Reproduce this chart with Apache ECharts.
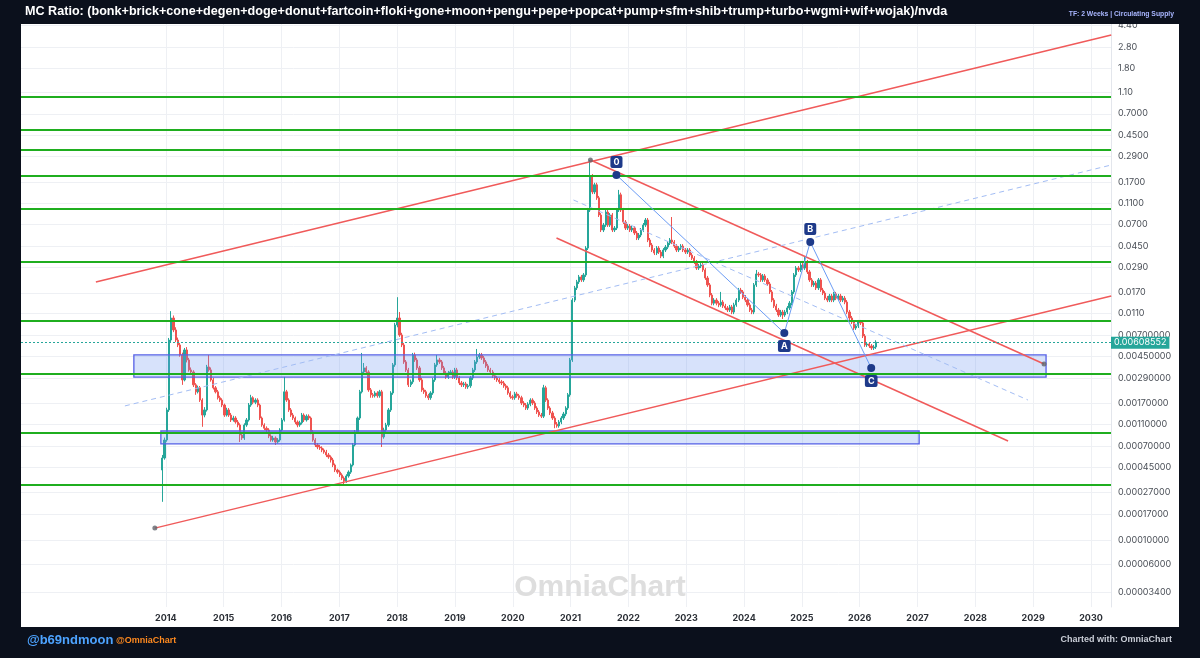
<!DOCTYPE html>
<html><head><meta charset="utf-8">
<script src="https://cdn.jsdelivr.net/npm/echarts@6/dist/echarts.min.js"></script>
<style>html,body{margin:0;padding:0;background:#0b101c;}#c{width:1200px;height:658px;}</style>
</head><body><div id="c"></div>
<script>
// ---------------- DATA ----------------
const titleText = 'MC Ratio: (bonk+brick+cone+degen+doge+donut+fartcoin+floki+gone+moon+pengu+pepe+popcat+pump+sfm+shib+trump+turbo+wgmi+wif+wojak)/nvda';
const subtitleText = 'TF: 2 Weeks | Circulating Supply';
const startYear = 2013.94;      // first 2-week candle (decimal year)
const candleDays = 14;
const firstOpen = 0.000428;
const closes = [
0.000549,0.000798,0.00149,0.00637,0.01006,0.00785,0.00637,0.00575,0.00467,0.00278,
0.00518,0.00421,0.00342,0.00328,0.00251,0.00217,0.00236,0.00183,0.00134,0.00149,
0.00364,0.00342,0.00278,0.00236,0.00217,0.00192,0.00183,0.00165,0.00134,0.00149,
0.00134,0.00121,0.00126,0.00116,0.00109,0.000886,0.000832,0.00109,0.00121,0.00165,
0.00192,0.00175,0.00183,0.00165,0.00126,0.00109,0.00102,0.000983,0.000867,0.000798,
0.000832,0.000765,0.000798,0.000983,0.00121,0.00217,0.00183,0.00149,0.00134,0.00126,
0.00116,0.00109,0.00114,0.00134,0.00121,0.00131,0.00126,0.000943,0.000798,0.000720,
0.000690,0.000676,0.000648,0.000621,0.000585,0.000561,0.000527,0.000475,0.000428,0.000410,
0.000386,0.000362,0.000341,0.000378,0.000410,0.000475,0.000720,0.000943,0.00126,0.00217,
0.00328,0.00357,0.00328,0.00226,0.00204,0.00200,0.00212,0.00200,0.00217,0.000850,
0.000983,0.00109,0.00149,0.00212,0.00380,0.00870,0.01006,0.00707,0.00575,0.00404,
0.00342,0.00251,0.00267,0.00467,0.00421,0.00357,0.00278,0.00226,0.00217,0.00200,
0.00192,0.00212,0.00278,0.00380,0.00421,0.00404,0.00357,0.00321,0.00296,0.00321,
0.00328,0.00296,0.00342,0.00290,0.00261,0.00251,0.00256,0.00241,0.00246,0.00290,
0.00342,0.00404,0.00448,0.00467,0.00439,0.00404,0.00372,0.00342,0.00328,0.00303,
0.00290,0.00278,0.00267,0.00261,0.00246,0.00236,0.00212,0.00196,0.00192,0.00208,
0.00200,0.00192,0.00172,0.00165,0.00155,0.00168,0.00183,0.00172,0.00155,0.00143,
0.00134,0.00131,0.00236,0.00183,0.00155,0.00140,0.00126,0.00111,0.00107,0.00116,
0.00126,0.00137,0.00155,0.00204,0.00421,0.0146,0.0188,0.0213,0.0236,0.0222,
0.0246,0.0430,0.0948,0.192,0.138,0.160,0.122,0.0855,0.0626,0.0694,
0.0909,0.0694,0.0855,0.0626,0.0652,0.0948,0.130,0.0948,0.0738,0.0652,
0.0679,0.0626,0.0652,0.0588,0.0530,0.0564,0.0626,0.0694,0.0770,0.0508,
0.0458,0.0413,0.0388,0.0430,0.0396,0.0364,0.0413,0.0439,0.0477,0.0508,
0.0487,0.0448,0.0413,0.0430,0.0448,0.0413,0.0396,0.0413,0.0372,0.0349,
0.0322,0.0284,0.0296,0.0302,0.0273,0.0231,0.0200,0.0162,0.0137,0.0146,
0.0137,0.0132,0.0140,0.0129,0.0124,0.01188,0.01266,0.01139,0.0132,0.0146,
0.0180,0.0173,0.0155,0.0146,0.0132,0.01188,0.01139,0.0200,0.0251,0.0246,
0.0222,0.0241,0.0222,0.0204,0.0173,0.0146,0.0129,0.01188,0.01071,0.01139,
0.01071,0.01139,0.0124,0.0137,0.0173,0.0246,0.0284,0.0273,0.0302,0.0284,
0.0322,0.0262,0.0222,0.0200,0.0208,0.0188,0.0222,0.0180,0.0169,0.0152,
0.0146,0.0159,0.0146,0.0166,0.0152,0.0159,0.0146,0.0152,0.0140,0.01139,
0.01006,0.00926,0.00817,0.00852,0.00926,0.00907,0.00692,0.00575,0.00586,0.00563,
0.00540,0.00551,0.00608552
];
const highs = [
0.000585,0.000840,0.00156,0.00665,0.0116,0.0106,0.0083,0.0067,0.0060,0.0049,
0.0054,0.0055,0.0044,0.0036,0.0034,0.0026,0.00247,0.00245,0.0019,0.00158,
0.0038,0.00467,0.0036,0.0029,0.00245,0.00226,0.0020,0.0019,0.0017,0.00156,
0.00155,0.0014,0.00132,0.00131,0.00121,0.00113,0.00092,0.00113,0.00126,0.00172,
0.00204,0.00198,0.0019,0.0019,0.0017,0.0013,0.00113,0.00106,0.00102,0.0009,
0.00087,0.00086,0.00083,0.00102,0.00126,0.00296,0.00226,0.0019,0.00155,0.0014,
0.0013,0.0012,0.00119,0.0014,0.00139,0.00136,0.00136,0.0013,0.00098,0.00083,
0.00075,0.00072,0.0007,0.00067,0.00065,0.00061,0.00058,0.00055,0.00049,0.00044,
0.000425,0.0004,0.000375,0.000392,0.000425,0.00049,0.00075,0.00098,0.0013,0.00226,
0.00487,0.00395,0.0037,0.0034,0.00235,0.00212,0.0022,0.0022,0.00226,0.00226,
0.00103,0.00114,0.00155,0.0022,0.00395,0.0091,0.0155,0.01139,0.0074,0.006,
0.0042,0.00357,0.0028,0.00487,0.0049,0.0044,0.00372,0.0029,0.00236,0.00226,
0.00208,0.0022,0.0029,0.00396,0.00467,0.0044,0.0042,0.00372,0.00335,0.00335,
0.00342,0.00342,0.00357,0.00357,0.00302,0.00272,0.00267,0.00267,0.00256,0.00302,
0.00357,0.0042,0.00529,0.00487,0.00487,0.00457,0.0042,0.00388,0.00357,0.00342,
0.00316,0.00302,0.0029,0.00278,0.00272,0.00256,0.00246,0.0022,0.00204,0.00217,
0.00217,0.00208,0.002,0.00179,0.00172,0.00175,0.0019,0.0019,0.00179,0.00161,
0.00149,0.0014,0.00251,0.00246,0.0019,0.00161,0.00146,0.00131,0.00116,0.00121,
0.00131,0.00143,0.00161,0.00212,0.00439,0.0152,0.0196,0.0222,0.0246,0.0246,
0.0256,0.0448,0.099,0.268,0.20,0.167,0.167,0.127,0.089,0.0724,
0.0948,0.0948,0.089,0.089,0.068,0.099,0.144,0.136,0.099,0.077,
0.0709,0.0709,0.068,0.068,0.0613,0.0588,0.0652,0.0724,0.0803,0.0803,
0.053,0.0478,0.043,0.0448,0.0448,0.0413,0.043,0.0458,0.0497,0.053,
0.082,0.0508,0.0467,0.0448,0.0467,0.0467,0.043,0.043,0.043,0.0388,
0.0364,0.0336,0.0309,0.0315,0.0315,0.0284,0.0241,0.0208,0.0169,0.0152,
0.0152,0.0143,0.0173,0.0146,0.0135,0.0129,0.0132,0.0132,0.0138,0.0152,
0.0188,0.0188,0.018,0.0162,0.0152,0.0138,0.0124,0.0208,0.0273,0.0262,
0.0256,0.0251,0.0251,0.0231,0.0213,0.018,0.0152,0.0135,0.0124,0.0119,
0.0119,0.0119,0.0129,0.0143,0.018,0.0256,0.0296,0.0296,0.0315,0.0315,
0.0357,0.0336,0.0273,0.0231,0.0217,0.0217,0.0231,0.0231,0.0188,0.0176,
0.0159,0.0166,0.0166,0.0173,0.0173,0.0166,0.0166,0.0159,0.0159,0.0146,
0.0119,0.0105,0.00966,0.00888,0.00966,0.00966,0.00946,0.00721,0.0061,0.0061,
0.00586,0.00575,0.00634
];
const lows = [
0.000221,0.00053,0.00077,0.00143,0.0061,0.0075,0.0061,0.0055,0.0045,0.00251,
0.0027,0.0040,0.0033,0.0031,0.0024,0.00204,0.0021,0.00176,0.00105,0.00128,
0.00144,0.0033,0.00268,0.00228,0.0021,0.00185,0.00176,0.00158,0.00129,0.0013,
0.00129,0.00116,0.00117,0.00112,0.00104,0.000765,0.0008,0.0008,0.00105,0.00117,
0.00159,0.00168,0.00168,0.00158,0.00121,0.00105,0.00098,0.00094,0.00083,0.00077,
0.00077,0.00072,0.00074,0.00077,0.00095,0.00117,0.00176,0.00143,0.00129,0.00121,
0.00111,0.00104,0.00105,0.0011,0.00116,0.00117,0.00121,0.0009,0.00077,0.00069,
0.00066,0.00065,0.00062,0.0006,0.00056,0.00054,0.0005,0.000455,0.00041,0.000395,
0.00037,0.000347,0.00032,0.000328,0.000365,0.000395,0.00046,0.0007,0.00091,0.00121,
0.0021,0.00315,0.00316,0.00217,0.00192,0.00192,0.00193,0.00192,0.00192,0.00069,
0.00082,0.00094,0.00105,0.00143,0.00204,0.00365,0.0083,0.0068,0.0055,0.00388,
0.00328,0.0024,0.0024,0.00256,0.00404,0.00342,0.00267,0.00217,0.00208,0.00192,
0.00183,0.00184,0.00204,0.00267,0.00365,0.00388,0.00342,0.00308,0.00284,0.00284,
0.00308,0.00284,0.00284,0.00278,0.0025,0.0024,0.0024,0.00231,0.00231,0.00236,
0.00278,0.00328,0.00388,0.0043,0.00421,0.00388,0.00357,0.00328,0.00315,0.0029,
0.00278,0.00267,0.00256,0.0025,0.00236,0.00226,0.00204,0.00188,0.00184,0.00184,
0.00192,0.00184,0.00165,0.00158,0.00149,0.00149,0.00161,0.00165,0.00149,0.00137,
0.00129,0.00126,0.00126,0.00176,0.00149,0.00134,0.00121,0.00102,0.00103,0.00103,
0.00111,0.00121,0.00131,0.00149,0.00196,0.00404,0.014,0.018,0.0204,0.0213,
0.0213,0.0236,0.0413,0.091,0.132,0.132,0.117,0.082,0.060,0.060,
0.0667,0.0667,0.0667,0.060,0.060,0.0626,0.091,0.091,0.0709,0.0626,
0.0626,0.060,0.060,0.0564,0.0508,0.0508,0.054,0.060,0.0667,0.0487,
0.0439,0.0396,0.0372,0.0372,0.038,0.0349,0.0349,0.0396,0.0421,0.0458,
0.0467,0.043,0.0396,0.0396,0.0413,0.0396,0.038,0.038,0.0357,0.0336,
0.0309,0.0273,0.0273,0.0284,0.0262,0.0222,0.0192,0.0155,0.0131,0.0131,
0.0131,0.0126,0.0127,0.0124,0.0119,0.0114,0.0114,0.0109,0.0109,0.0127,
0.014,0.0166,0.0149,0.014,0.0127,0.0114,0.0109,0.0109,0.0192,0.0236,
0.0213,0.0213,0.0213,0.0196,0.0166,0.014,0.0124,0.0114,0.0103,0.0103,
0.00986,0.0103,0.0109,0.0119,0.0131,0.0166,0.0236,0.0262,0.0262,0.0273,
0.0273,0.0251,0.0213,0.0192,0.0192,0.018,0.018,0.0173,0.0162,0.0146,
0.014,0.014,0.014,0.014,0.0146,0.0146,0.014,0.014,0.0134,0.0109,
0.00966,0.00888,0.00785,0.00785,0.00817,0.0087,0.00664,0.00552,0.00552,0.0054,
0.00518,0.00518,0.00529
];
const lastPrice = 0.00608552;
const yTickLabels = ['4.40','2.80','1.80','1.10','0.7000','0.4500','0.2900','0.1700','0.1100','0.0700','0.0450','0.0290','0.0170','0.0110','0.00700000','0.00450000','0.00290000','0.00170000','0.00110000','0.00070000','0.00045000','0.00027000','0.00017000','0.00010000','0.00006000','0.00003400'];
const xTickLabels = [2014,2015,2016,2017,2018,2019,2020,2021,2022,2023,2024,2025,2026,2027,2028,2029,2030];
const greenLevels = [0.992,0.500,0.330,0.196,0.0974,0.0322,0.00951,0.00315,0.000937,0.000318];
// zones: [startYear, endYear, upper value, lower value]
const zones = [[2013.447,2029.223,0.00467,0.00295],[2013.914,2027.028,0.000962,0.000735]];
// solid red trend lines: [t1, v1, t2, v2]
const redLines = [[2012.79,0.0213,2030.35,3.59],[2013.81,0.000128,2030.35,0.0159],[2021.343,0.268,2029.188,0.00387],[2020.756,0.0530,2028.566,0.000782]];
// dashed mid lines: [t1, v1, t2, v2]
const dashedLines = [[2013.292,0.00162,2030.35,0.2415],[2021.05,0.1168,2028.911,0.00183]];
const abcNames = ['0','A','B','C'];
const abcTimes = [2021.793,2024.696,2025.145,2026.199];
const abcValues = [0.1963,0.00737,0.0488,0.00356];
const pivotTimes = [2013.81,2021.343,2029.188];
const pivotValues = [0.000128,0.268,0.00387];

// ---------------- CHART ----------------
const L = v => Math.log10(v);
const candles = closes.map((c, i) => {
  const o = i === 0 ? firstOpen : closes[i - 1];
  return [startYear + i * candleDays / 365.25, L(o), L(c), L(lows[i]), L(highs[i])];
});
const yTickVals = yTickLabels.map(s => L(parseFloat(s)));
const FONT = 'Inter, Roboto, "DejaVu Sans", sans-serif';
const HFONT = '"Liberation Sans", Arial, sans-serif';

const lineSeries = (arr, style, z) => arr.map(d => ({
  type: 'line', data: [[d[0], L(d[1])], [d[2], L(d[3])]],
  symbol: 'none', lineStyle: style, z: z, silent: true, animation: false
}));

const option = {
  backgroundColor: '#ffffff',
  animation: false,
  grid: { left: 21, right: 89, top: 24, bottom: 51 },
  xAxis: {
    type: 'value', min: 2011.495, max: 2030.346,
    axisLine: { show: true, lineStyle: { color: '#e3e6ec' } },
    axisTick: { show: false, customValues: xTickLabels },
    axisLabel: { customValues: xTickLabels, formatter: v => String(v), color: '#2b2f36', fontSize: 9, fontFamily: FONT, fontWeight: 'bold', margin: 7 },
    splitLine: { show: true, lineStyle: { color: '#eef0f4', width: 1 } }
  },
  yAxis: {
    type: 'value', position: 'right', min: -4.6044, max: 0.6549, scale: true,
    axisLine: { show: true, lineStyle: { color: '#e3e6ec' } },
    axisTick: { show: false, customValues: yTickVals },
    axisLabel: {
      customValues: yTickVals, color: '#4a4f57', fontSize: 9, fontFamily: FONT, margin: 7,
      formatter: v => { let best = 0; yTickVals.forEach((t, i) => { if (Math.abs(t - v) < Math.abs(yTickVals[best] - v)) best = i; }); return yTickLabels[best]; }
    },
    splitLine: { show: true, lineStyle: { color: '#eef0f4', width: 1 } }
  },
  series: [
    {
      type: 'candlestick', data: candles, barWidth: 1.7, z: 2,
      itemStyle: { color: '#26a69a', color0: '#ef5350', borderColor: '#26a69a', borderColor0: '#ef5350', borderWidth: 1 },
      markArea: {
        silent: true, z: 3,
        itemStyle: { color: 'rgba(110,150,240,0.28)', borderColor: '#5560e6', borderWidth: 1.3 },
        data: zones.map(z => [{ xAxis: z[0], yAxis: L(z[2]) }, { xAxis: z[1], yAxis: L(z[3]) }])
      },
      markLine: {
        silent: true, symbol: ['none', 'none'], animation: false,
        data: greenLevels.map(v => ({ yAxis: L(v), lineStyle: { color: '#1fae1f', width: 2, type: 'solid' }, label: { show: false } }))
          .concat([{ yAxis: L(lastPrice), lineStyle: { color: '#26a69a', width: 1, type: [2, 2], opacity: 1 },
            label: { show: true, position: 'end', distance: 0, formatter: String(lastPrice), backgroundColor: '#26a69a', color: '#fff', fontSize: 9, fontFamily: FONT, padding: [2, 3, 1, 3] } }])
      }
    },
    ...lineSeries(redLines, { color: '#f05a5a', width: 1.5 }, 4),
    ...lineSeries(dashedLines, { color: '#a3bdf4', width: 1, type: [5, 4] }, 4),
    {
      type: 'line', z: 6, silent: true, animation: false,
      data: abcTimes.map((t, i) => ({ value: [t, L(abcValues[i])], label: { show: true, formatter: abcNames[i], position: i % 2 === 0 ? 'top' : 'bottom' } })),
      symbol: 'circle', symbolSize: 8, itemStyle: { color: '#1e3a8a' },
      lineStyle: { color: '#6b9cf5', width: 1 },
      label: { backgroundColor: '#1e3a8a', color: '#fff', fontSize: 9, fontWeight: 'bold', fontFamily: FONT, padding: [2, 3, 1, 3], borderRadius: 2, distance: 3 }
    },
    {
      type: 'scatter', z: 7, silent: true, animation: false,
      data: pivotTimes.map((t, i) => [t, L(pivotValues[i])]),
      symbolSize: 5, itemStyle: { color: '#60646c' }
    }
  ],
  graphic: [
    { type: 'text', z: 1, x: 600, y: 588, style: { text: 'OmniaChart', fill: '#dedede', font: 'bold 30px ' + HFONT, textAlign: 'center', textVerticalAlign: 'middle' } },
    { type: 'rect', z: 100, shape: { x: 0, y: 0, width: 1200, height: 24 }, style: { fill: '#0b101c' } },
    { type: 'rect', z: 100, shape: { x: 0, y: 627, width: 1200, height: 31 }, style: { fill: '#0b101c' } },
    { type: 'rect', z: 100, shape: { x: 0, y: 0, width: 21, height: 658 }, style: { fill: '#0b101c' } },
    { type: 'rect', z: 100, shape: { x: 1179, y: 0, width: 21, height: 658 }, style: { fill: '#0b101c' } },
    { type: 'text', z: 101, x: 25, y: 12, style: { text: titleText, fill: '#ffffff', font: 'bold 12.6px ' + HFONT, textVerticalAlign: 'middle' } },
    { type: 'text', z: 101, x: 1174, y: 14, style: { text: subtitleText, fill: '#a9b6ff', font: 'bold 6.8px ' + HFONT, textAlign: 'right', textVerticalAlign: 'middle' } },
    { type: 'text', z: 101, x: 27, y: 640, style: { text: '@b69ndmoon', fill: '#4da3ff', font: 'bold 13px ' + HFONT, textVerticalAlign: 'middle' } },
    { type: 'text', z: 101, x: 116, y: 641, style: { text: '@OmniaChart', fill: '#ff8a1f', font: 'bold 9px ' + HFONT, textVerticalAlign: 'middle' } },
    { type: 'text', z: 101, x: 1172, y: 640, style: { text: 'Charted with: OmniaChart', fill: '#c9cdd6', font: 'bold 9px ' + HFONT, textAlign: 'right', textVerticalAlign: 'middle' } }
  ]
};
const chart = echarts.init(document.getElementById('c'));
chart.setOption(option);
</script>
</body></html>
